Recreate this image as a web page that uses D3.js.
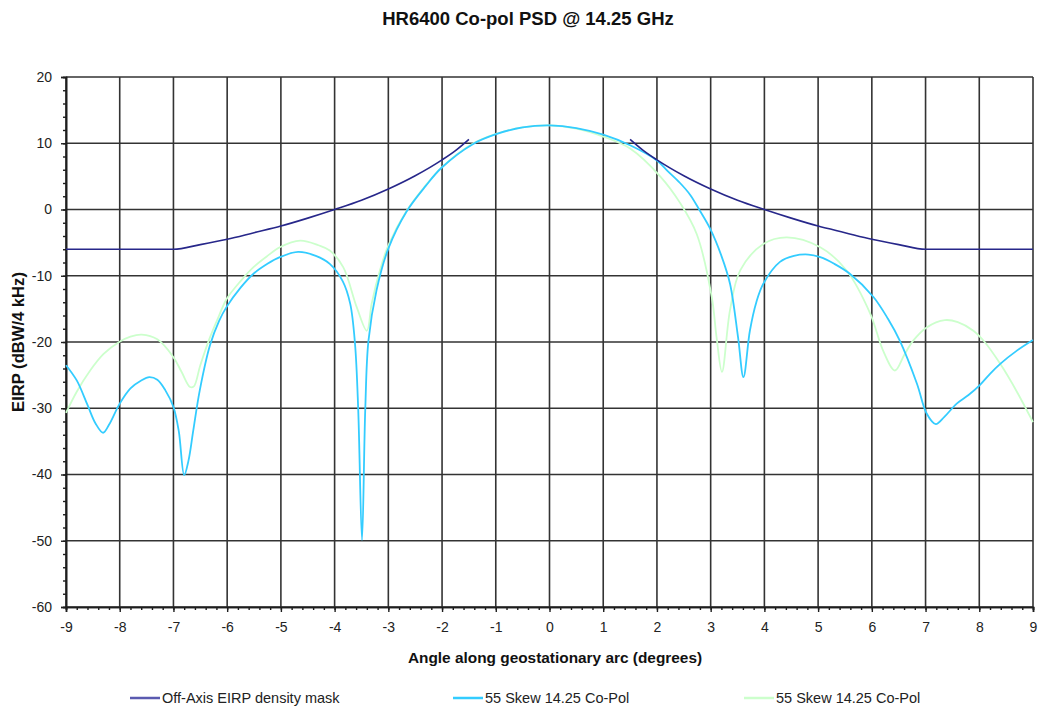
<!DOCTYPE html>
<html>
<head>
<meta charset="utf-8">
<script src="https://cdn.jsdelivr.net/npm/d3@7/dist/d3.min.js"></script>
<style>
  html, body { margin: 0; padding: 0; background: #fff; }
  svg { display: block; font-family: "Liberation Sans", Arial, sans-serif; }
</style>
</head>
<body>
<svg id="chart" width="1039" height="710"></svg>
<script>
// ---- data ----
const titleText = "HR6400 Co-pol PSD @ 14.25 GHz";
const xLabel = "Angle along geostationary arc (degrees)";
const yLabel = "EIRP (dBW/4 kHz)";
const xTicks = [-9, -8, -7, -6, -5, -4, -3, -2, -1, 0, 1, 2, 3, 4, 5, 6, 7, 8, 9];
const yTicks = [20, 10, 0, -10, -20, -30, -40, -50, -60];
const seriesNames = ["Off-Axis EIRP density mask", "55 Skew 14.25 Co-Pol", "55 Skew 14.25 Co-Pol"];

// Off-axis mask (null = gap)
const maskAngle = [-9, -8, -7, -6.5, -6, -5.5, -5, -4.5, -4, -3.5, -3, -2.5, -2, -1.75, -1.5,
                   0,
                   1.5, 1.75, 2, 2.5, 3, 3.5, 4, 4.5, 5, 5.5, 6, 6.5, 7, 8, 9];
const maskValue = [-6, -6, -6, -5.3, -4.5, -3.5, -2.5, -1.3, 0, 1.4, 3.1, 5.1, 7.5, 8.9, 10.6,
                   null,
                   10.6, 8.9, 7.5, 5.1, 3.1, 1.4, 0, -1.3, -2.5, -3.5, -4.5, -5.3, -6, -6, -6];

// 55 Skew co-pol (cyan)
const cyanAngle = [-9.0, -8.8, -8.6, -8.45, -8.31, -8.2, -8.0, -7.8, -7.6, -7.45, -7.3, -7.15, -7.0, -6.9, -6.8,
  -6.72, -6.63, -6.51, -6.32, -6.15, -6.01, -5.75, -5.51, -5.25, -5.02, -4.68, -4.35, -4.09, -3.85, -3.71,
  -3.62, -3.56, -3.49, -3.43, -3.37, -3.22, -3.0, -2.66, -2.3, -2.01, -1.42, -0.98, -0.5, 0, 0.5, 1.0, 1.5,
  2.0, 2.2, 2.43, 2.62, 2.8, 2.99, 3.2, 3.36, 3.51, 3.61, 3.73, 3.85, 3.98, 4.29, 4.55, 4.82, 5.04, 5.3, 5.59,
  6.03, 6.3, 6.52, 6.84, 7.02, 7.19, 7.35, 7.58, 7.8, 8.01, 8.2, 8.39, 8.7, 9.0];
const cyanValue = [-23.5, -25.8, -29.5, -32.3, -33.7, -32.5, -29.3, -27.0, -25.8, -25.3, -25.7, -27.3, -29.8, -33.5, -40.1,
  -37.9, -33.3, -27.3, -20.5, -16.8, -14.7, -11.8, -9.7, -8.2, -7.2, -6.4, -7.0, -8.2, -10.8, -14.2,
  -20.3, -30.3, -49.9, -30.3, -19.8, -12.2, -5.9, -0.3, 3.6, 6.3, 9.9, 11.4, 12.4, 12.7, 12.3, 11.3, 9.7,
  7.4, 5.8, 4.0, 2.2, -0.2, -2.9, -7.0, -11.2, -19.3, -25.3, -18.3, -14.0, -11.2, -7.9, -7.0, -6.8, -7.2, -8.2, -9.7,
  -13.2, -16.5, -19.8, -26.3, -30.8, -32.4, -31.3, -29.3, -28.0, -26.5, -24.8, -23.3, -21.3, -19.7];

// 55 Skew co-pol (pale green)
const greenAngle = [-9.0, -8.8, -8.55, -8.3, -8.01, -7.8, -7.59, -7.3, -7.0, -6.85, -6.69, -6.62, -6.5, -6.32,
  -6.15, -6.01, -5.75, -5.51, -5.25, -5.02, -4.64, -4.3, -4.09, -3.84, -3.59, -3.4, -3.31, -3.15, -3.0,
  -2.66, -2.3, -2.0, -1.5, -1.0, -0.5, 0, 0.5, 1.0, 1.5, 2.06, 2.43, 2.74, 3.02, 3.11, 3.21, 3.36, 3.55,
  3.98, 4.42, 5.04, 5.53, 5.97, 6.21, 6.43, 6.6, 6.77, 7.02, 7.36, 7.6, 7.89, 8.1, 8.39, 8.7, 9.0];
const greenValue = [-30.7, -27.5, -24.3, -21.8, -20.0, -19.2, -18.9, -19.6, -22.3, -24.5, -26.8, -26.7, -23.5, -19.3,
  -16.0, -13.5, -10.8, -8.7, -7.0, -5.7, -4.7, -5.4, -6.2, -8.7, -14.7, -18.3, -14.2, -9.0, -5.4,
  -0.2, 3.7, 6.4, 9.6, 11.4, 12.4, 12.7, 12.2, 11.0, 9.2, 5.0, 1.0, -3.7, -13.2, -19.3, -24.5, -15.2, -9.2,
  -5.2, -4.2, -5.7, -9.2, -15.7, -21.3, -24.3, -22.0, -19.8, -17.8, -16.7, -17.0, -18.3, -20.0, -23.3, -27.5, -32.1];

const colors = ["#27278a", "#33ccff", "#ccffcc"];

// ---- layout ----
const svg = d3.select("#chart");
const L = 66, R = 1033, T = 77, B = 607;
const x = d3.scaleLinear().domain([-9, 9]).range([L, R]);
const y = d3.scaleLinear().domain([-60, 20]).range([B, T]);

// grid
const grid = svg.append("g").attr("stroke", "#1e1e1e").attr("stroke-width", 1.6).attr("opacity", 0.9);
grid.selectAll(".vg").data(xTicks).join("line")
  .attr("x1", d => x(d)).attr("x2", d => x(d)).attr("y1", T).attr("y2", B);
grid.selectAll(".hg").data(yTicks).join("line")
  .attr("x1", L).attr("x2", R).attr("y1", d => y(d)).attr("y2", d => y(d));

// axes
const fmt = d => String(d);
const xAxis = d3.axisBottom(x).tickValues(xTicks).tickSize(5).tickPadding(10).tickFormat(fmt);
const xMinor = d3.axisBottom(x).tickValues(d3.range(-90, 91, 2).map(v => v / 10)).tickSize(3).tickFormat("");
const yAxis = d3.axisLeft(y).tickValues(yTicks).tickSize(5).tickPadding(9).tickFormat(fmt);
const yMinor = d3.axisLeft(y).tickValues(d3.range(-60, 21, 2)).tickSize(3).tickFormat("");

function styleAxis(g) {
  g.select(".domain").attr("stroke", "#1e1e1e").attr("stroke-width", 1.6);
  g.selectAll(".tick line").attr("stroke", "#1e1e1e").attr("stroke-width", 1.4);
  g.selectAll(".tick text").attr("fill", "#222").style("font-size", "14px")
    .style("font-family", "'Liberation Sans', Arial, sans-serif");
}
svg.append("g").attr("transform", `translate(0,${B})`).call(xMinor).call(styleAxis);
svg.append("g").attr("transform", `translate(0,${B})`).call(xAxis).call(styleAxis);
svg.append("g").attr("transform", `translate(${L},0)`).call(yMinor).call(styleAxis);
svg.append("g").attr("transform", `translate(${L},0)`).call(yAxis).call(styleAxis);

// lines
const curve = d3.curveCatmullRom.alpha(0.5);
const lineSmooth = d3.line()
  .x(d => x(d[0])).y(d => y(d[1]))
  .curve(curve);

const maskData = maskAngle.map((a, i) => [a, maskValue[i]]);
const cyanData = cyanAngle.map((a, i) => [a, cyanValue[i]]);
const greenData = greenAngle.map((a, i) => [a, greenValue[i]]);

const plot = svg.append("g").attr("fill", "none");
plot.append("path").datum(greenData).attr("d", lineSmooth)
  .attr("stroke", colors[2]).attr("stroke-width", 1.8);
plot.append("path").datum(cyanData).attr("d", lineSmooth)
  .attr("stroke", colors[1]).attr("stroke-width", 1.8);
const maskLine = d3.line().defined(d => d[1] !== null).x(d => x(d[0])).y(d => y(d[1])).curve(d3.curveMonotoneX);
plot.append("path").datum(maskData).attr("d", maskLine)
  .attr("stroke", colors[0]).attr("stroke-width", 1.6);

// title and labels
svg.append("text").attr("x", 528).attr("y", 25).attr("text-anchor", "middle")
  .style("font-size", "18.5px").style("font-weight", "bold").attr("fill", "#111").text(titleText);
svg.append("text").attr("x", 555).attr("y", 663).attr("text-anchor", "middle")
  .style("font-size", "15.4px").style("font-weight", "bold").attr("fill", "#111").text(xLabel);
svg.append("text").attr("transform", `translate(24,${(T + B) / 2}) rotate(-90)`).attr("text-anchor", "middle")
  .style("font-size", "16.6px").style("font-weight", "bold").attr("fill", "#111").text(yLabel);

// legend
const legendX = [130, 453, 744];
const leg = svg.append("g");
seriesNames.forEach((name, i) => {
  const g = leg.append("g").attr("transform", `translate(${legendX[i]},698)`);
  g.append("line").attr("x1", 0).attr("x2", 30).attr("y1", 0).attr("y2", 0)
    .attr("stroke", i === 0 ? "#5a5ab0" : colors[i]).attr("stroke-width", 2.5);
  g.append("text").attr("x", 32).attr("y", 5).style("font-size", "14.5px").attr("fill", "#222").text(name);
});
</script>
</body>
</html>
